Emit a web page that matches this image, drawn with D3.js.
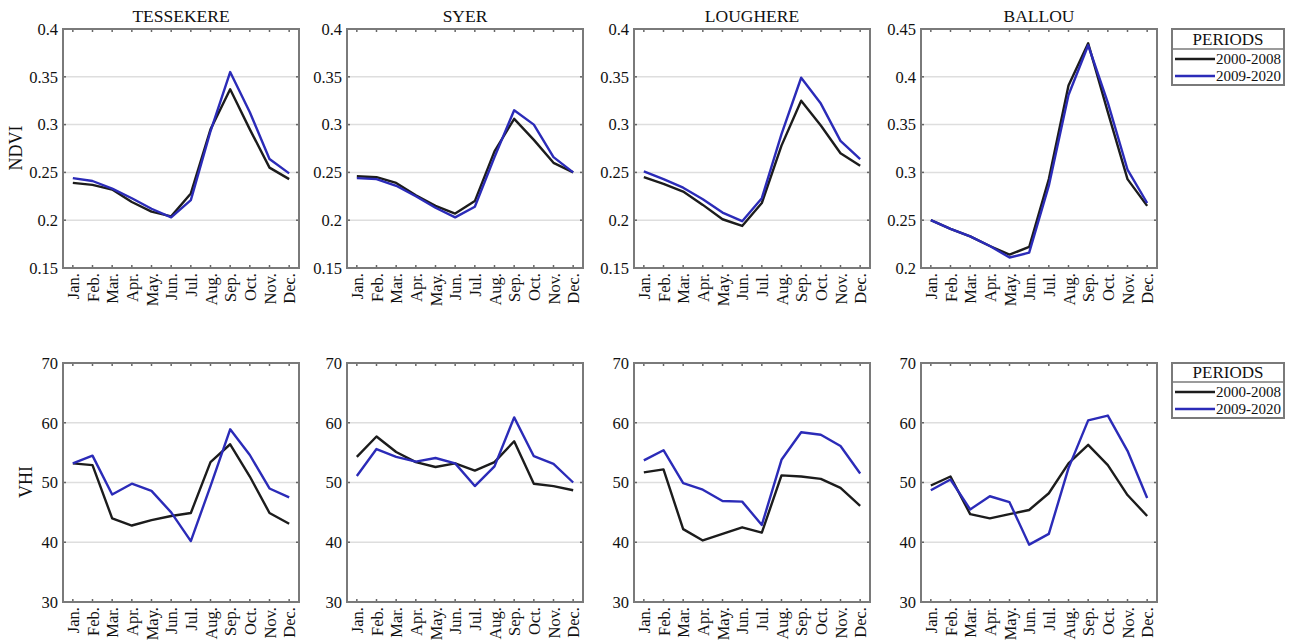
<!DOCTYPE html>
<html>
<head>
<meta charset="utf-8">
<script src="https://cdnjs.cloudflare.com/ajax/libs/d3/7.8.5/d3.min.js"></script>
<style>
  body { margin: 0; background: #fff; }
  text { font-family: "Liberation Serif", "Times New Roman", serif; fill: #111; }
</style>
</head>
<body>
<script>
var months = ["Jan.", "Feb.", "Mar.", "Apr.", "May.", "Jun.", "Jul.", "Aug.", "Sep.", "Oct.", "Nov.", "Dec."];
var sites = ["TESSEKERE", "SYER", "LOUGHERE", "BALLOU"];
var periods = ["2000-2008", "2009-2020"];

var ndviTicks = [0.15, 0.2, 0.25, 0.3, 0.35, 0.4];
var ndviTicksBallou = [0.2, 0.25, 0.3, 0.35, 0.4, 0.45];
var vhiTicks = [30, 40, 50, 60, 70];

// NDVI, 2000-2008 / 2009-2020
var ndviTessekere1 = [0.239, 0.237, 0.232, 0.219, 0.209, 0.204, 0.228, 0.295, 0.337, 0.295, 0.255, 0.243];
var ndviTessekere2 = [0.244, 0.241, 0.233, 0.223, 0.212, 0.203, 0.221, 0.293, 0.355, 0.313, 0.264, 0.249];
var ndviSyer1 = [0.246, 0.245, 0.239, 0.226, 0.215, 0.207, 0.220, 0.272, 0.306, 0.284, 0.260, 0.250];
var ndviSyer2 = [0.244, 0.243, 0.236, 0.225, 0.213, 0.203, 0.214, 0.266, 0.315, 0.300, 0.266, 0.250];
var ndviLoughere1 = [0.245, 0.238, 0.230, 0.216, 0.201, 0.194, 0.218, 0.278, 0.325, 0.299, 0.270, 0.257];
var ndviLoughere2 = [0.251, 0.243, 0.234, 0.222, 0.208, 0.199, 0.223, 0.290, 0.349, 0.322, 0.283, 0.264];
var ndviBallou1 = [0.250, 0.241, 0.233, 0.223, 0.214, 0.222, 0.293, 0.391, 0.435, 0.363, 0.293, 0.265];
var ndviBallou2 = [0.250, 0.241, 0.233, 0.223, 0.211, 0.216, 0.286, 0.381, 0.433, 0.373, 0.303, 0.268];

// VHI, 2000-2008 / 2009-2020
var vhiTessekere1 = [53.2, 52.9, 44.0, 42.8, 43.7, 44.4, 44.9, 53.4, 56.4, 51.0, 44.9, 43.1];
var vhiTessekere2 = [53.2, 54.5, 48.0, 49.8, 48.6, 45.0, 40.2, 49.4, 58.9, 54.6, 49.0, 47.5];
var vhiSyer1 = [54.3, 57.7, 55.1, 53.4, 52.6, 53.2, 52.0, 53.4, 56.9, 49.8, 49.4, 48.7];
var vhiSyer2 = [51.1, 55.6, 54.3, 53.5, 54.1, 53.2, 49.4, 52.7, 60.9, 54.4, 53.1, 50.0];
var vhiLoughere1 = [51.7, 52.2, 42.2, 40.3, 41.4, 42.5, 41.6, 51.2, 51.0, 50.6, 49.1, 46.1];
var vhiLoughere2 = [53.7, 55.4, 49.9, 48.8, 46.9, 46.8, 42.9, 53.8, 58.4, 58.0, 56.1, 51.5];
var vhiBallou1 = [49.5, 51.0, 44.7, 44.0, 44.7, 45.4, 48.2, 53.2, 56.3, 52.9, 47.9, 44.4];
var vhiBallou2 = [48.7, 50.5, 45.5, 47.7, 46.7, 39.6, 41.4, 52.4, 60.4, 61.2, 55.3, 47.4];

var colors = ["#1c1c1c", "#2b2bb8"];

var colLeft = [63, 347, 634, 921];
var rowTop = [29, 363];
var plotW = 236, plotH = 239;

var panels = [
  { row: 0, col: 0, title: sites[0], ticks: ndviTicks, series: [ndviTessekere1, ndviTessekere2] },
  { row: 0, col: 1, title: sites[1], ticks: ndviTicks, series: [ndviSyer1, ndviSyer2] },
  { row: 0, col: 2, title: sites[2], ticks: ndviTicks, series: [ndviLoughere1, ndviLoughere2] },
  { row: 0, col: 3, title: sites[3], ticks: ndviTicksBallou, series: [ndviBallou1, ndviBallou2] },
  { row: 1, col: 0, ticks: vhiTicks, series: [vhiTessekere1, vhiTessekere2] },
  { row: 1, col: 1, ticks: vhiTicks, series: [vhiSyer1, vhiSyer2] },
  { row: 1, col: 2, ticks: vhiTicks, series: [vhiLoughere1, vhiLoughere2] },
  { row: 1, col: 3, ticks: vhiTicks, series: [vhiBallou1, vhiBallou2] }
];

var svg = d3.select("body").append("svg")
  .attr("width", 1293)
  .attr("height", 643);

panels.forEach(function(p) {
  var g = svg.append("g")
    .attr("transform", `translate(${colLeft[p.col]}, ${rowTop[p.row]})`);

  var x = d3.scalePoint().domain(months).range([0, plotW]).padding(0.5);
  var y = d3.scaleLinear().domain(d3.extent(p.ticks)).range([plotH, 0]);

  // grid
  g.selectAll(".grid")
    .data(p.ticks.slice(1, -1))
    .enter().append("line")
    .attr("x1", 0).attr("x2", plotW)
    .attr("y1", d => y(d)).attr("y2", d => y(d))
    .attr("stroke", "#dedede")
    .attr("stroke-width", 1.5);

  // small inner ticks on all four sides
  months.forEach(function(m) {
    g.append("line").attr("x1", x(m)).attr("x2", x(m)).attr("y1", 0).attr("y2", 3)
      .attr("stroke", "#666").attr("stroke-width", 1.5);
    g.append("line").attr("x1", x(m)).attr("x2", x(m)).attr("y1", plotH).attr("y2", plotH - 3)
      .attr("stroke", "#666").attr("stroke-width", 1.5);
  });
  p.ticks.forEach(function(t) {
    g.append("line").attr("x1", 0).attr("x2", 3).attr("y1", y(t)).attr("y2", y(t))
      .attr("stroke", "#666").attr("stroke-width", 1.5);
    g.append("line").attr("x1", plotW).attr("x2", plotW - 3).attr("y1", y(t)).attr("y2", y(t))
      .attr("stroke", "#666").attr("stroke-width", 1.5);
  });

  var yAxis = g.append("g")
    .call(d3.axisLeft(y).tickValues(p.ticks).tickSize(0).tickPadding(5).tickFormat(d3.format("")));
  yAxis.select(".domain").remove();
  yAxis.selectAll("text").style("font-size", "16.5px").attr("fill", "#111");

  var xAxis = g.append("g")
    .attr("transform", `translate(0, ${plotH})`)
    .call(d3.axisBottom(x).tickSize(0));
  xAxis.select(".domain").remove();
  xAxis.selectAll("text")
    .style("font-size", "16.5px")
    .attr("fill", "#111")
    .attr("transform", "rotate(-90)")
    .attr("x", -5)
    .attr("y", 0)
    .attr("dy", "0.35em")
    .attr("text-anchor", "end");

  var line = d3.line()
    .x((d, i) => x(months[i]))
    .y(d => y(d));

  p.series.forEach(function(s, k) {
    g.append("path")
      .datum(s)
      .attr("fill", "none")
      .attr("stroke", colors[k])
      .attr("stroke-width", 2.4)
      .attr("stroke-linejoin", "round")
      .attr("d", line);
  });

  g.append("rect")
    .attr("width", plotW).attr("height", plotH)
    .attr("fill", "none")
    .attr("stroke", "#7a7a7a")
    .attr("stroke-width", 2);

  if (p.title) {
    g.append("text")
      .attr("x", plotW / 2)
      .attr("y", -7)
      .attr("text-anchor", "middle")
      .style("font-size", "17.5px")
      .text(p.title);
  }
});

// y axis titles
svg.append("text")
  .attr("transform", "translate(22, 148) rotate(-90)")
  .attr("text-anchor", "middle")
  .style("font-size", "18px")
  .text("NDVI");
svg.append("text")
  .attr("transform", "translate(32, 482) rotate(-90)")
  .attr("text-anchor", "middle")
  .style("font-size", "18px")
  .text("VHI");

// legends
[{ top: 29, head: 20, h: 56 }, { top: 363, head: 19, h: 55 }].forEach(function(L) {
  var lg = svg.append("g").attr("transform", `translate(1172, ${L.top})`);
  lg.append("rect")
    .attr("width", 112).attr("height", L.h)
    .attr("fill", "#fff")
    .attr("stroke", "#7a7a7a")
    .attr("stroke-width", 2);
  lg.append("line")
    .attr("x1", 0).attr("x2", 112)
    .attr("y1", L.head).attr("y2", L.head)
    .attr("stroke", "#7a7a7a").attr("stroke-width", 1.5);
  lg.append("text")
    .attr("x", 56).attr("y", L.head - 4)
    .attr("text-anchor", "middle")
    .style("font-size", "17px")
    .text("PERIODS");
  periods.forEach(function(name, k) {
    var yy = L.head + 10 + k * 17;
    lg.append("line")
      .attr("x1", 3).attr("x2", 43)
      .attr("y1", yy).attr("y2", yy)
      .attr("stroke", colors[k]).attr("stroke-width", 2.6);
    lg.append("text")
      .attr("x", 44).attr("y", yy)
      .attr("dy", "0.35em")
      .style("font-size", "15px")
      .text(name);
  });
});
</script>
</body>
</html>
